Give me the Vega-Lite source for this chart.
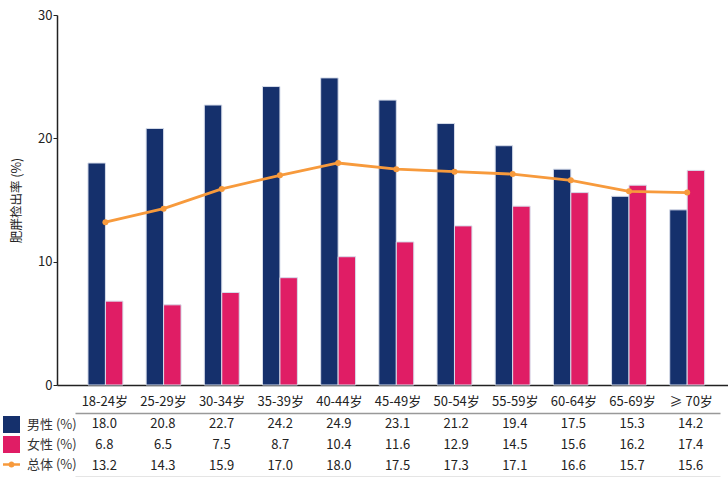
{
  "$schema": "https://vega.github.io/schema/vega-lite/v6.json",
  "padding": {"left": 3, "top": 9, "right": 0, "bottom": 0},
  "background": "white",
  "config": {
    "font": "Noto Sans CJK SC",
    "view": {"stroke": null},
    "axis": {"labelFont": "Noto Sans CJK SC", "titleFont": "Noto Sans CJK SC"}
  },
  "data": {"values": [
    {"age": "18-24岁", "series": "男性 (%)", "value": 18.0},
    {"age": "25-29岁", "series": "男性 (%)", "value": 20.8},
    {"age": "30-34岁", "series": "男性 (%)", "value": 22.7},
    {"age": "35-39岁", "series": "男性 (%)", "value": 24.2},
    {"age": "40-44岁", "series": "男性 (%)", "value": 24.9},
    {"age": "45-49岁", "series": "男性 (%)", "value": 23.1},
    {"age": "50-54岁", "series": "男性 (%)", "value": 21.2},
    {"age": "55-59岁", "series": "男性 (%)", "value": 19.4},
    {"age": "60-64岁", "series": "男性 (%)", "value": 17.5},
    {"age": "65-69岁", "series": "男性 (%)", "value": 15.3},
    {"age": "≥ 70岁", "series": "男性 (%)", "value": 14.2},
    {"age": "18-24岁", "series": "女性 (%)", "value": 6.8},
    {"age": "25-29岁", "series": "女性 (%)", "value": 6.5},
    {"age": "30-34岁", "series": "女性 (%)", "value": 7.5},
    {"age": "35-39岁", "series": "女性 (%)", "value": 8.7},
    {"age": "40-44岁", "series": "女性 (%)", "value": 10.4},
    {"age": "45-49岁", "series": "女性 (%)", "value": 11.6},
    {"age": "50-54岁", "series": "女性 (%)", "value": 12.9},
    {"age": "55-59岁", "series": "女性 (%)", "value": 14.5},
    {"age": "60-64岁", "series": "女性 (%)", "value": 15.6},
    {"age": "65-69岁", "series": "女性 (%)", "value": 16.2},
    {"age": "≥ 70岁", "series": "女性 (%)", "value": 17.4},
    {"age": "18-24岁", "series": "总体 (%)", "value": 13.2},
    {"age": "25-29岁", "series": "总体 (%)", "value": 14.3},
    {"age": "30-34岁", "series": "总体 (%)", "value": 15.9},
    {"age": "35-39岁", "series": "总体 (%)", "value": 17.0},
    {"age": "40-44岁", "series": "总体 (%)", "value": 18.0},
    {"age": "45-49岁", "series": "总体 (%)", "value": 17.5},
    {"age": "50-54岁", "series": "总体 (%)", "value": 17.3},
    {"age": "55-59岁", "series": "总体 (%)", "value": 17.1},
    {"age": "60-64岁", "series": "总体 (%)", "value": 16.6},
    {"age": "65-69岁", "series": "总体 (%)", "value": 15.7},
    {"age": "≥ 70岁", "series": "总体 (%)", "value": 15.6}
  ]},
  "bounds": "flush",
  "spacing": 28,
  "resolve": {"scale": {"x": "independent", "y": "independent", "color": "shared"}},
  "vconcat": [
    {
      "width": 671,
      "height": 370,
      "encoding": {
        "x": {
          "field": "age", "type": "nominal", "sort": null,
          "scale": {"paddingInner": 0.4, "paddingOuter": 0.467, "align": 0.57},
          "axis": {"title": null, "labels": false, "ticks": false, "domainColor": "#222", "domainWidth": 1.5}
        }
      },
      "layer": [
        {
          "transform": [{"filter": "datum.series !== '总体 (%)'"}],
          "mark": {"type": "bar", "stroke": "#d6dcea", "strokeWidth": 1},
          "encoding": {
            "xOffset": {"field": "series", "type": "nominal", "sort": ["男性 (%)", "女性 (%)"], "scale": {"paddingInner": 0, "paddingOuter": 0}},
            "y": {
              "field": "value", "type": "quantitative",
              "scale": {"domain": [0, 30], "nice": false},
              "axis": {
                "title": "肥胖检出率 (%)", "values": [0, 10, 20, 30], "grid": false,
                "domainColor": "#222", "domainWidth": 1.5, "tickColor": "#222", "tickSize": 4,
                "labelFontSize": 13, "labelColor": "#222", "labelPadding": 1,
                "titleFontSize": 12.5, "titleFontWeight": "normal", "titleColor": "#222", "titlePadding": 14
              }
            },
            "color": {
              "field": "series", "type": "nominal",
              "scale": {"domain": ["男性 (%)", "女性 (%)", "总体 (%)"], "range": ["#15306c", "#e01d65", "#f79a3c"]},
              "legend": {
                "orient": "none", "legendX": -54, "legendY": 401, "title": null, "padding": 0,
                "symbolType": "square",
                "symbolSize": 289, "symbolStrokeWidth": 0, "rowPadding": 3, "labelOffset": 7,
                "labelFontSize": 13, "labelColor": "#333", "labelFont": "Noto Sans CJK SC",
                "encode": {"symbols": {"update": {
                  "shape": {"signal": "datum.value === '总体 (%)' ? 'M-1,-0.14H1V0.14H-1Z M0.36,0A0.36,0.36,0,1,1,-0.36,0A0.36,0.36,0,1,1,0.36,0Z' : 'square'"},
                  "strokeWidth": {"value": 0}
                }}}
              }
            }
          }
        },
        {
          "transform": [{"filter": "datum.series === '总体 (%)'"}],
          "mark": {"type": "line", "strokeWidth": 2.8, "point": {"filled": true, "size": 36}},
          "encoding": {
            "y": {"field": "value", "type": "quantitative"},
            "color": {
              "field": "series", "type": "nominal",
              "legend": {
                "orient": "none", "legendX": -54, "legendY": 401, "title": null, "padding": 0,
                "symbolType": "square",
                "symbolSize": 289, "symbolStrokeWidth": 0, "rowPadding": 3, "labelOffset": 7,
                "labelFontSize": 13, "labelColor": "#333", "labelFont": "Noto Sans CJK SC",
                "encode": {"symbols": {"update": {
                  "shape": {"signal": "datum.value === '总体 (%)' ? 'M-1,-0.14H1V0.14H-1Z M0.36,0A0.36,0.36,0,1,1,-0.36,0A0.36,0.36,0,1,1,0.36,0Z' : 'square'"},
                  "strokeWidth": {"value": 0}
                }}}
              }
            }
          }
        }
      ]
    },
    {
      "width": 671,
      "height": 64,
      "layer": [
        {
          "mark": {"type": "text", "fontSize": 13, "color": "#222", "font": "Noto Sans CJK SC"},
          "encoding": {
            "x": {
              "field": "age", "type": "nominal", "sort": null,
              "scale": {"range": [18, 663], "paddingInner": 0, "paddingOuter": 0.043},
              "axis": {"orient": "top", "title": null, "ticks": false, "labelAngle": 0, "labelFontSize": 13, "labelColor": "#222", "labelPadding": 5, "domainColor": "#999", "domainWidth": 1.5}
            },
            "y": {
              "field": "series", "type": "nominal", "sort": ["男性 (%)", "女性 (%)", "总体 (%)"],
              "scale": {"paddingInner": 0, "paddingOuter": 0.1},
              "axis": null
            },
            "text": {"field": "value", "type": "quantitative", "format": ".1f"}
          }
        },
        {
          "mark": {"type": "text", "opacity": 0},
          "encoding": {
            "x": {
              "field": "age", "type": "nominal", "sort": null,
              "axis": {"orient": "bottom", "title": null, "ticks": false, "labels": false, "domainColor": "#999", "domainWidth": 1.5}
            },
            "y": {"field": "series", "type": "nominal", "sort": ["男性 (%)", "女性 (%)", "总体 (%)"]},
            "text": {"field": "value", "type": "quantitative"}
          }
        }
      ],
      "resolve": {"axis": {"x": "independent"}}
    }
  ]
}
